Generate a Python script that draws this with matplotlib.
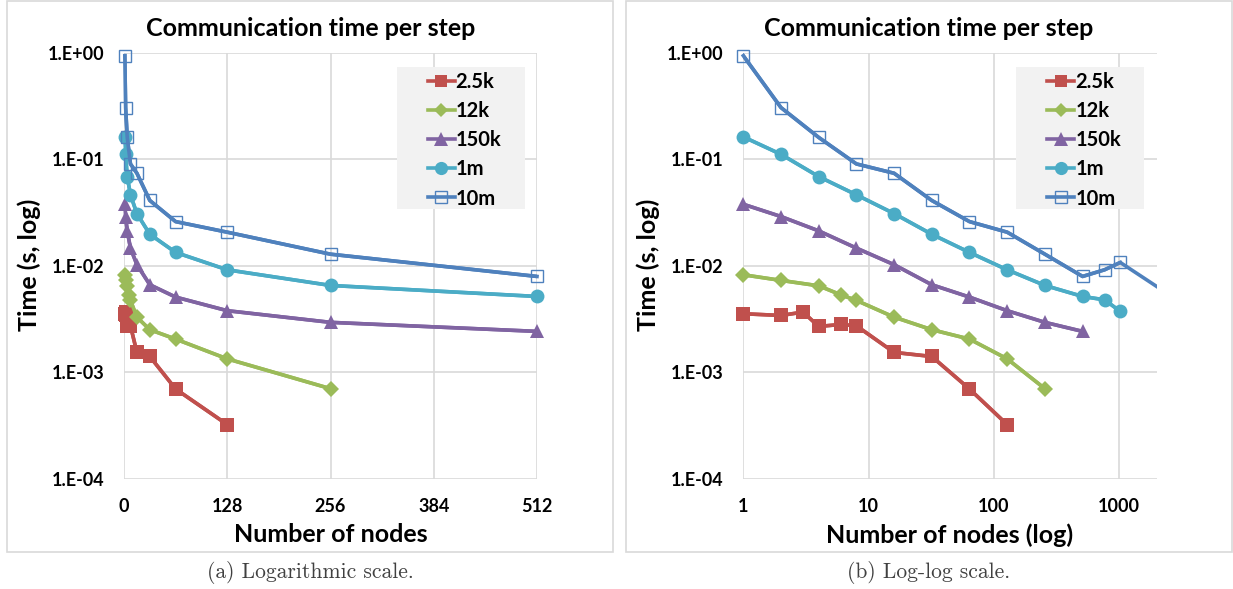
import numpy as np
import matplotlib
matplotlib.use('Agg')
import matplotlib.pyplot as plt
from matplotlib.patches import Rectangle
from matplotlib.lines import Line2D
from matplotlib.ticker import FixedLocator, FuncFormatter, NullLocator

# series labels
labels = ['2.5k', '12k', '150k', '1m', '10m']

# number of nodes per series
nodes_25k = [1, 2, 3, 4, 6, 8, 16, 32, 64, 128]
nodes_12k = [1, 2, 4, 6, 8, 16, 32, 64, 128, 256]
nodes_150k = [1, 2, 4, 8, 16, 32, 64, 128, 256, 512]
nodes_1m = [1, 2, 4, 8, 16, 32, 64, 128, 256, 512, 768, 1024]
nodes_10m = [1, 2, 4, 8, 16, 32, 64, 128, 256, 512, 768, 1024, 2048]

# communication time per step (s)
time_25k = [3.53e-3, 3.40e-3, 3.66e-3, 2.68e-3, 2.80e-3, 2.72e-3, 1.53e-3, 1.40e-3, 6.93e-4, 3.21e-4]
time_12k = [8.2e-3, 7.26e-3, 6.46e-3, 5.32e-3, 4.71e-3, 3.28e-3, 2.50e-3, 2.04e-3, 1.33e-3, 6.98e-4]
time_150k = [3.77e-2, 2.89e-2, 2.12e-2, 1.46e-2, 1.02e-2, 6.61e-3, 5.06e-3, 3.77e-3, 2.93e-3, 2.41e-3]
time_1m = [0.162, 0.111, 6.86e-2, 4.62e-2, 3.08e-2, 1.97e-2, 1.33e-2, 9.13e-3, 6.51e-3, 5.13e-3, 4.77e-3, 3.71e-3]
time_10m = [0.937, 0.305, 0.160, 9.02e-2, 7.37e-2, 4.09e-2, 2.59e-2, 2.06e-2, 1.28e-2, 7.91e-3, 9.14e-3, 1.07e-2, 6.25e-3]

all_nodes = [nodes_25k, nodes_12k, nodes_150k, nodes_1m, nodes_10m]
all_times = [time_25k, time_12k, time_150k, time_1m, time_10m]

colors = ['#C0504D', '#9BBB59', '#8064A2', '#4BACC6', '#4F81BD']
markers = ['s', 'D', '^', 'o', 's']
msizes = [9.5, 8, 10, 10, 9]
faces = ['#C0504D', '#9BBB59', '#8064A2', '#4BACC6', 'none']
medges = [0, 0, 0, 0, 1.0]
LW = 2.6

FONT = 'Lato'
W, H = 1233, 589
fig = plt.figure(figsize=(W / 100, H / 100), dpi=100)

# panel frames
for x0, x1 in [(7.3, 613.3), (626, 1231.7)]:
    fig.patches.append(Rectangle((x0 / W, 1 - 551.7 / H), (x1 - x0) / W, 550.7 / H,
                                 transform=fig.transFigure, fill=False,
                                 edgecolor='#d9d9d9', lw=1.2))

ax_top, ax_bot = 52.7, 478.5
ax1 = fig.add_axes([124 / W, 1 - ax_bot / H, 413 / W, (ax_bot - ax_top) / H])
ax2 = fig.add_axes([743.3 / W, 1 - ax_bot / H, 413.4 / W, (ax_bot - ax_top) / H])


def sci_fmt(v, pos):
    e = int(round(np.log10(v)))
    return '1.E%+03d' % e


def draw(ax, xmax):
    for x, y, c, mk, ms, fc, mw in zip(all_nodes, all_times, colors, markers, msizes, faces, medges):
        x = np.array(x)
        y = np.array(y)
        ax.plot(x, y, color=c, lw=LW, zorder=3)
        m = x <= xmax
        ax.plot(x[m], y[m], color=c, lw=LW, marker=mk, ms=ms, mfc=fc, mec=c, mew=mw,
                clip_on=False, zorder=4)
    ax.set_yscale('log')
    ax.set_ylim(1e-4, 1)
    ax.yaxis.set_major_locator(FixedLocator([1e-4, 1e-3, 1e-2, 1e-1, 1]))
    ax.yaxis.set_minor_locator(NullLocator())
    ax.yaxis.set_major_formatter(FuncFormatter(sci_fmt))
    ax.grid(True, color='#d9d9d9', lw=1.2)
    ax.set_axisbelow(True)
    for s in ax.spines.values():
        s.set_visible(False)
    ax.tick_params(length=0, pad=14, labelsize=13)
    for t in ax.get_xticklabels() + ax.get_yticklabels():
        t.set_fontfamily(FONT)
        t.set_fontweight('bold')

    # legend with grey box
    ax.add_patch(Rectangle((0.66, 0.632), 0.31, 0.334, transform=ax.transAxes,
                           facecolor='#f2f2f2', edgecolor='none', zorder=2.5))
    handles = [Line2D([], [], color=c, lw=LW, marker=mk, ms=ms * 0.95, mfc=fc, mec=c, mew=mw)
               for c, mk, ms, fc, mw in zip(colors, markers, msizes, faces, medges)]
    leg = ax.legend(handles, labels, loc='upper left', bbox_to_anchor=(0.735, 0.954),
                    frameon=False, borderpad=0, borderaxespad=0, handlelength=1.35,
                    handletextpad=0.05, labelspacing=0.45,
                    prop={'family': FONT, 'weight': 'bold', 'size': 14.5})
    leg.set_zorder(5)


draw(ax1, 512)
ax1.set_xlim(0, 512)
ax1.set_xticks([0, 128, 256, 384, 512])
ax1.set_xticklabels(['0', '128', '256', '384', '512'], fontfamily=FONT, fontweight='bold')

draw(ax2, 2000)
ax2.set_xscale('log')
ax2.set_xlim(1, 2000)
ax2.xaxis.set_major_locator(FixedLocator([1, 10, 100, 1000]))
ax2.xaxis.set_minor_locator(NullLocator())
ax2.set_xticklabels(['1', '10', '100', '1000'], fontfamily=FONT, fontweight='bold')

# titles, axis labels and captions
for cx, acx, xlab in [(310.3, 330.5, 'Number of nodes'), (928.8, 950, 'Number of nodes (log)')]:
    fig.text(cx / W, 1 - 29 / H, 'Communication time per step', ha='center', va='center',
             fontfamily=FONT, fontweight='bold', fontsize=18)
    fig.text(acx / W, 1 - 535 / H, xlab, ha='center', va='center',
             fontfamily=FONT, fontweight='bold', fontsize=18)
for lx in [29, 648]:
    fig.text(lx / W, 1 - 265 / H, 'Time (s, log)', ha='center', va='center', rotation=90,
             fontfamily=FONT, fontweight='bold', fontsize=18)

fig.text(310.3 / W, 1 - 573 / H, '(a) Logarithmic scale.', ha='center', va='center',
         fontfamily='cmr10', fontsize=15.5, color='#404040')
fig.text(928.8 / W, 1 - 573 / H, '(b) Log-log scale.', ha='center', va='center',
         fontfamily='cmr10', fontsize=15.5, color='#404040')

plt.savefig('out.png', dpi=100)
